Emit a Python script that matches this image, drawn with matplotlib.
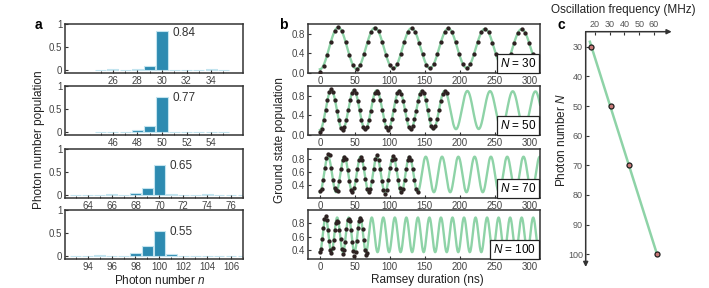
import numpy as np
import matplotlib
matplotlib.use("Agg")
import matplotlib.pyplot as plt

plt.rcParams['font.family'] = ['Liberation Sans', 'DejaVu Sans']
plt.rcParams['mathtext.fontset'] = 'custom'
plt.rcParams['mathtext.rm'] = 'Liberation Sans'
plt.rcParams['mathtext.it'] = 'Liberation Sans:italic'

# ---------------- data ----------------
photon_N = [30, 50, 70, 100]

# panel a: photon number distributions
n_30 = [25, 26, 27, 28, 29, 30, 31, 32, 33, 34, 35]
p_30 = [0.005, 0.015, 0.005, 0.025, 0.08, 0.84, 0.01, 0.01, 0.01, 0.015, 0.005]
n_50 = [45, 46, 47, 48, 49, 50, 51, 52, 53, 54, 55]
p_50 = [0.005, 0.01, 0.01, 0.04, 0.12, 0.77, 0.01, 0.01, 0.005, 0.01, 0.005]
n_70 = [63, 64, 65, 66, 67, 68, 69, 70, 71, 72, 73, 74, 75, 76, 77]
p_70 = [0.003, 0.0, 0.003, 0.012, 0.01, 0.05, 0.16, 0.65, 0.025, 0.01, 0.008, 0.012, 0.005, 0.005, 0.005]
n_100 = [93, 94, 95, 96, 97, 98, 99, 100, 101, 102, 103, 104, 105, 106, 107]
p_100 = [0.003, 0.005, 0.012, 0.01, 0.01, 0.07, 0.21, 0.55, 0.05, 0.01, 0.005, 0.004, 0.005, 0.01, 0.005]
peak_labels = ["0.84", "0.77", "0.65", "0.55"]
a_ticklabels = [[26, 28, 30, 32, 34], [46, 48, 50, 52, 54],
                [64, 66, 68, 70, 72, 74, 76], [94, 96, 98, 100, 102, 104, 106]]

# panel b: Ramsey data (sampling step in ns, populations)
step_30 = 5.25
pop_30 = [0.03, 0.15, 0.37, 0.64, 0.85, 0.93, 0.86, 0.64, 0.37, 0.16,
          0.08, 0.17, 0.38, 0.63, 0.84, 0.92, 0.85, 0.63, 0.37, 0.17,
          0.10, 0.18, 0.38, 0.64, 0.84, 0.92, 0.83, 0.62, 0.38, 0.17,
          0.10, 0.18, 0.38, 0.63, 0.83, 0.91, 0.83, 0.63, 0.39, 0.18,
          0.11, 0.18, 0.38, 0.63, 0.83, 0.90, 0.83, 0.62, 0.38, 0.19,
          0.11, 0.19, 0.39, 0.62, 0.82, 0.89, 0.82, 0.62, 0.39]
step_50 = 2.706
pop_50 = [0.07, 0.13, 0.30, 0.51, 0.72, 0.87, 0.93, 0.88, 0.72, 0.50, 0.30, 0.15,
          0.11, 0.16, 0.31, 0.52, 0.71, 0.86, 0.91, 0.86, 0.70, 0.51, 0.31, 0.17,
          0.12, 0.17, 0.31, 0.50, 0.71, 0.85, 0.90, 0.85, 0.71, 0.52, 0.31, 0.16,
          0.11, 0.17, 0.32, 0.51, 0.70, 0.85, 0.90, 0.84, 0.70, 0.51, 0.32, 0.17,
          0.13, 0.18, 0.32, 0.50, 0.70, 0.84, 0.89, 0.85, 0.71, 0.51, 0.32, 0.18,
          0.14, 0.18, 0.32, 0.51, 0.70, 0.84, 0.89, 0.86]
step_70 = 2.331
pop_70 = [0.30, 0.33, 0.48, 0.66, 0.82, 0.88, 0.86, 0.66, 0.47, 0.34,
          0.32, 0.30, 0.45, 0.64, 0.79, 0.83, 0.80, 0.63, 0.46, 0.31,
          0.29, 0.34, 0.47, 0.65, 0.78, 0.84, 0.79, 0.66, 0.49, 0.33,
          0.28, 0.33, 0.46, 0.64, 0.80, 0.86, 0.78, 0.64, 0.45, 0.32,
          0.25, 0.31, 0.48, 0.66, 0.79, 0.85, 0.80, 0.65, 0.47, 0.35,
          0.29, 0.33, 0.47, 0.64, 0.78, 0.83, 0.79, 0.64, 0.48, 0.33,
          0.28]
step_100 = 1.65
pop_100 = [0.38, 0.41, 0.56, 0.72, 0.86, 0.90, 0.84, 0.70, 0.53, 0.40,
           0.36, 0.43, 0.55, 0.69, 0.80, 0.83, 0.82, 0.70, 0.56, 0.42,
           0.34, 0.40, 0.52, 0.71, 0.84, 0.86, 0.83, 0.69, 0.52, 0.39,
           0.31, 0.37, 0.54, 0.72, 0.83, 0.87, 0.84, 0.71, 0.55, 0.40,
           0.33, 0.36]

# fitted parameters of the Ramsey curves
fit_freq_MHz = [19.05, 30.8, 42.9, 60.6]
fit_offset = [0.505, 0.51, 0.56, 0.625]
fit_amp = [0.43, 0.41, 0.28, 0.255]
fit_decay_ns = [3000.0, 4000.0, 1e5, 1e5]

# panel c: oscillation frequency vs photon number
c_freq_MHz = [17.3, 30.6, 43.3, 61.8]

# ---------------- styling ----------------
BAR_FC = '#2d8bb1'
BAR_EC = '#c3e4ef'
GREEN = '#8ed3a7'
DOT = '#2e2222'
SPINE = '#333333'
TICKC = '#444444'
W, H = 709.0, 288.0

fig = plt.figure(figsize=(7.09, 2.88), dpi=100)


def px_axes(left, top, right, bottom):
    return fig.add_axes([left / W, 1 - bottom / H, (right - left) / W, (bottom - top) / H])


def style(ax):
    for s in ax.spines.values():
        s.set_color(SPINE)
        s.set_linewidth(1.1)
    ax.tick_params(direction='in', length=2.2, width=0.8, color=SPINE,
                   labelsize=7, labelcolor=TICKC, pad=2)
    ax.tick_params(which='minor', direction='in', length=1.8, width=0.7, color=SPINE)


tops = [24, 86, 149, 210]
hgt = 49
ns = [n_30, n_50, n_70, n_100]
ps = [p_30, p_50, p_70, p_100]

# panel a
for i, N in enumerate(photon_N):
    ax = px_axes(65, tops[i], 243, tops[i] + hgt)
    style(ax)
    ax.bar(ns[i], ps[i], width=0.9, color=BAR_FC, edgecolor=BAR_EC, linewidth=0.8)
    ax.set_xlim(N - 7.9, N + 6.6)
    ax.set_ylim(-0.065, 1.0)
    ax.set_yticks([0, 0.5, 1])
    ax.set_yticklabels(['0', '0.5', '1'])
    ax.set_xticks(a_ticklabels[i])
    ax.set_xticklabels([str(v) for v in a_ticklabels[i]])
    ax.set_xticks(ns[i], minor=True)
    k = ns[i].index(N)
    ax.text(N + 0.85, ps[i][k] - 0.03, peak_labels[i], fontsize=8.5,
            color='#333333', ha='left', va='center')

fig.text(38 / W, 1 - 25 / H, 'a', fontsize=10, fontweight='bold', ha='center', va='center')
fig.text(39 / W, 1 - 140 / H, 'Photon number population', rotation=90,
         fontsize=8.5, ha='center', va='center', color='#222222')
fig.text(160 / W, 1 - 280 / H, 'Photon number $n$', fontsize=8.5,
         ha='center', va='center', color='#222222')

# panel b
steps = [step_30, step_50, step_70, step_100]
pops = [pop_30, pop_50, pop_70, pop_100]
ylims = [(0.0, 1.0), (0.0, 1.0), (0.19, 0.96), (0.27, 0.99)]
yticks = [[0.0, 0.4, 0.8], [0.0, 0.4, 0.8], [0.4, 0.6, 0.8], [0.4, 0.6, 0.8]]
for i, N in enumerate(photon_N):
    ax = px_axes(308, tops[i], 540, tops[i] + hgt)
    style(ax)
    tt = np.linspace(0, 316, 2000)
    fit = fit_offset[i] - fit_amp[i] * np.exp(-tt / fit_decay_ns[i]) * np.cos(2 * np.pi * fit_freq_MHz[i] * tt / 1000.0)
    ax.plot(tt, fit, color=GREEN, lw=1.7, zorder=2)
    td = np.arange(len(pops[i])) * steps[i]
    ax.plot(td, pops[i], 'o', color=DOT, ms=3.1, mew=0, zorder=3)
    ax.set_xlim(-17, 315)
    ax.set_ylim(*ylims[i])
    ax.set_yticks(yticks[i])
    ax.set_yticklabels(['%.1f' % v for v in yticks[i]])
    ax.set_xticks([0, 50, 100, 150, 200, 250, 300])
    ax.text(0.985, 0.07, '$N$ = %d' % N, transform=ax.transAxes, fontsize=8.5,
            ha='right', va='bottom', zorder=5,
            bbox=dict(boxstyle='square,pad=0.25', fc='white', ec='#222222', lw=0.9))

fig.text(283 / W, 1 - 25 / H, 'b', fontsize=10, fontweight='bold', ha='center', va='center')
fig.text(280 / W, 1 - 140 / H, 'Ground state population', rotation=90,
         fontsize=8.5, ha='center', va='center', color='#222222')
fig.text(427 / W, 1 - 280 / H, 'Ramsey duration (ns)', fontsize=8.5,
         ha='center', va='center', color='#222222')

# panel c
axc = px_axes(585.7, 31.7, 671.7, 267)
for s in axc.spines.values():
    s.set_visible(False)
axc.set_xlim(13.7, 72.0)
axc.set_ylim(104.3, 24.9)
axc.xaxis.tick_top()
axc.set_xticks([20, 30, 40, 50, 60])
axc.set_yticks([30, 40, 50, 60, 70, 80, 90, 100])
axc.tick_params(direction='in', length=2.2, width=0.8, color=SPINE,
                labelsize=6.5, labelcolor='#555555', pad=2)
axc.annotate('', xy=(1, 1), xytext=(0, 1), xycoords='axes fraction',
             arrowprops=dict(arrowstyle='-|>', color=SPINE, lw=1.1,
                             shrinkA=0, shrinkB=0, mutation_scale=7))
axc.annotate('', xy=(0, 0), xytext=(0, 1), xycoords='axes fraction',
             arrowprops=dict(arrowstyle='-|>', color=SPINE, lw=1.1,
                             shrinkA=0, shrinkB=0, mutation_scale=7))
coef = np.polyfit(photon_N, c_freq_MHz, 1)
Nl = np.array([28.3, 100.0])
axc.plot(np.polyval(coef, Nl), Nl, color=GREEN, lw=1.8, zorder=2)
axc.plot(c_freq_MHz, photon_N, 'o', ms=3.6, mfc='#c97a78', mec='#1e1e1e',
         mew=0.9, zorder=3)

fig.text(561 / W, 1 - 25 / H, 'c', fontsize=10, fontweight='bold', ha='center', va='center')
fig.text(623 / W, 1 - 10 / H, 'Oscillation frequency (MHz)', fontsize=8.5,
         ha='center', va='center', color='#222222')
fig.text(561.7 / W, 1 - 140 / H, 'Photon number $N$', rotation=90,
         fontsize=8.5, ha='center', va='center', color='#222222')

fig.savefig('out.png', dpi=100)
